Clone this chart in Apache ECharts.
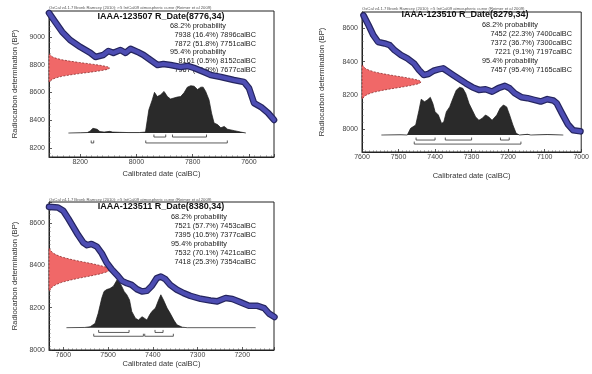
<!DOCTYPE html>
<html><head><meta charset="utf-8">
<script src="https://cdn.jsdelivr.net/npm/echarts@6.0.0/dist/echarts.min.js"></script>
<style>html,body{margin:0;padding:0;background:#fff}#c{width:592px;height:374px}</style>
</head><body><div id="c"></div>
<script>
// ---------- data ----------
const headerText = 'OxCal v4.1.7 Bronk Ramsey (2010); r:5 IntCal09 atmospheric curve (Reimer et al 2009)';
const labCodes = ['IAAA-123507', 'IAAA-123510', 'IAAA-123511'];
const bpMean = [8776, 8279, 8380];
const bpErr = [34, 34, 34];

// [from calBC, probability %, to calBC]
const range68_1 = [[7938, 16.4, 7896], [7872, 51.8, 7751]];
const range95_1 = [[8161, 0.5, 8152], [7967, 94.9, 7677]];
const range68_2 = [[7452, 22.3, 7400], [7372, 36.7, 7300], [7221, 9.1, 7197]];
const range95_2 = [[7457, 95.4, 7165]];
const range68_3 = [[7521, 57.7, 7453], [7395, 10.5, 7377]];
const range95_3 = [[7532, 70.1, 7421], [7418, 25.3, 7354]];

// calibration curve [calBC, BP]
const curve1 = [[8311,9173],[8289,9108],[8264,9036],[8236,8978],[8200,8928],[8164,8885],[8146,8856],[8118,8870],[8100,8899],[8082,8885],[8057,8906],[8039,8885],[8021,8914],[7996,8892],[7975,8870],[7950,8834],[7925,8798],[7904,8805],[7879,8798],[7843,8784],[7818,8791],[7796,8777],[7761,8748],[7736,8726],[7700,8712],[7654,8690],[7618,8676],[7600,8632],[7582,8524],[7557,8495],[7532,8452],[7511,8402]];
const curve2 = [[7596,8675],[7582,8616],[7569,8557],[7556,8517],[7538,8508],[7524,8498],[7511,8468],[7493,8439],[7476,8419],[7458,8390],[7444,8350],[7431,8321],[7418,8327],[7404,8346],[7391,8354],[7378,8360],[7364,8340],[7351,8321],[7333,8295],[7316,8271],[7298,8248],[7280,8232],[7262,8236],[7244,8222],[7227,8242],[7209,8256],[7196,8242],[7182,8212],[7164,8189],[7147,8183],[7129,8173],[7111,8163],[7093,8177],[7076,8169],[7067,8153],[7053,8094],[7036,8026],[7022,7992],[7002,7986]];
const curve3 = [[7632,8677],[7612,8674],[7600,8658],[7589,8622],[7578,8583],[7567,8544],[7555,8507],[7547,8496],[7537,8501],[7525,8489],[7514,8457],[7503,8413],[7492,8382],[7480,8355],[7469,8327],[7458,8316],[7447,8308],[7436,8288],[7424,8277],[7413,8280],[7402,8304],[7391,8340],[7382,8347],[7372,8335],[7361,8308],[7346,8285],[7331,8269],[7316,8256],[7293,8242],[7271,8234],[7256,8230],[7237,8246],[7222,8241],[7203,8225],[7185,8209],[7166,8209],[7151,8198],[7140,8172],[7128,8156]];

// measured radiocarbon date distribution [BP, relative density]
const red1 = [[8876,0.01],[8866,0.03],[8856,0.06],[8846,0.12],[8836,0.21],[8826,0.34],[8816,0.5],[8806,0.68],[8796,0.84],[8786,0.96],[8776,1],[8766,0.96],[8756,0.84],[8746,0.68],[8736,0.5],[8726,0.34],[8716,0.21],[8706,0.12],[8696,0.06],[8686,0.03],[8676,0.01]];
const red2 = [[8379,0.01],[8369,0.03],[8359,0.06],[8349,0.12],[8339,0.21],[8329,0.34],[8319,0.5],[8309,0.68],[8299,0.84],[8289,0.96],[8279,1],[8269,0.96],[8259,0.84],[8249,0.68],[8239,0.5],[8229,0.34],[8219,0.21],[8209,0.12],[8199,0.06],[8189,0.03],[8179,0.01]];
const red3 = [[8480,0.01],[8470,0.03],[8460,0.06],[8450,0.12],[8440,0.21],[8430,0.34],[8420,0.5],[8410,0.68],[8400,0.84],[8390,0.96],[8380,1],[8370,0.96],[8360,0.84],[8350,0.68],[8340,0.5],[8330,0.34],[8320,0.21],[8310,0.12],[8300,0.06],[8290,0.03],[8280,0.01]];

// calibrated distribution [calBC, relative density]
const black1 = [[8242,0],[8200,0.005],[8175,0.01],[8165,0.04],[8155,0.1],[8148,0.12],[8140,0.08],[8130,0.03],[8115,0.02],[8095,0.035],[8085,0.02],[8060,0.015],[8030,0.01],[7990,0.01],[7968,0.02],[7956,0.49],[7944,0.70],[7936,0.86],[7926,0.77],[7914,0.81],[7902,0.88],[7890,0.77],[7879,0.72],[7867,0.74],[7855,0.76],[7843,0.77],[7831,0.85],[7819,0.97],[7807,1.0],[7795,0.99],[7783,0.92],[7771,0.97],[7763,0.97],[7754,0.88],[7742,0.70],[7733,0.42],[7724,0.21],[7712,0.18],[7700,0.11],[7688,0.14],[7676,0.08],[7652,0.05],[7629,0.02],[7611,0]];
const black2 = [[7547,0],[7493,0.005],[7476,0],[7467,0.14],[7453,0.21],[7444,0.52],[7438,0.75],[7429,0.70],[7422,0.73],[7413,0.79],[7406,0.66],[7400,0.49],[7391,0.42],[7382,0.24],[7376,0.28],[7369,0.49],[7360,0.59],[7351,0.77],[7342,0.94],[7333,1.0],[7324,0.98],[7316,0.87],[7307,0.66],[7298,0.52],[7289,0.38],[7280,0.31],[7271,0.35],[7262,0.42],[7253,0.38],[7244,0.31],[7231,0.42],[7222,0.56],[7213,0.63],[7204,0.59],[7196,0.42],[7187,0.21],[7178,0.035],[7169,0],[7147,0.015],[7138,0],[7093,0.01],[7049,0]];
const black3 = [[7593,0],[7552,0.005],[7540,0.02],[7529,0.09],[7522,0.30],[7514,0.62],[7509,0.76],[7503,0.80],[7496,0.82],[7488,0.87],[7480,1.0],[7475,0.97],[7469,0.86],[7464,0.76],[7458,0.69],[7452,0.58],[7447,0.34],[7439,0.20],[7432,0.16],[7424,0.23],[7419,0.20],[7413,0.16],[7407,0.27],[7402,0.34],[7394,0.41],[7387,0.58],[7382,0.69],[7376,0.58],[7368,0.41],[7361,0.30],[7353,0.16],[7346,0.06],[7334,0.01],[7323,0],[7170,0]];

// ---------- layout ----------
const FONT = '"Liberation Sans", Arial, Helvetica, sans-serif';
const panels = [
  {grid:{left:49, top:11, width:225, height:146}, x:[7511,8311], xInt:null, xSplit:4, xMinor:10,
   y:[8135,9187], yInt:null, ySplit:5, yMinor:5, dens:[-0.507,2.58], lv68:-0.085, lv95:-0.21,
   curve:curve1, red:red1, black:black1, r68:range68_1, r95:range95_1,
   titleX:161, titleY:16.7, probL:170, probR:256, line0:25.7, headY:8, xGap:13, yGap:30},
  {grid:{left:362, top:12, width:222, height:140}, x:[7000,7600], xInt:100, xSplit:6, xMinor:10,
   y:[7863,8695], yInt:null, ySplit:4, yMinor:5, dens:[-0.356,2.58], lv68:-0.105, lv95:-0.19,
   curve:curve2, red:red2, black:black2, r68:range68_2, r95:range95_2,
   titleX:465, titleY:15, probL:482, probR:572, line0:25, headY:9.3, xGap:20, yGap:36},
  {grid:{left:49, top:202, width:225, height:148}, x:[7129,7632], xInt:null, xSplit:5, xMinor:10,
   y:[8000,8700], yInt:200, ySplit:4, yMinor:10, dens:[-0.468,2.635], lv68:-0.1, lv95:-0.18,
   curve:curve3, red:red3, black:black3, r68:range68_3, r95:range95_3,
   titleX:161, titleY:207, probL:171, probR:256, line0:217.3, headY:200, xGap:10, yGap:30}
];

const grids = [], xAxes = [], yAxes = [], series = [], graphic = [];
const fmt = r => r[0] + ' (' + r[1] + '%) ' + r[2] + 'calBC';

function bracketSeries(i, data, level) {
  return {
    type:'custom', xAxisIndex:2*i, yAxisIndex:2*i+1, z:5, silent:true, animation:false,
    data: data.map(r => [r[0], r[2]]),
    renderItem: (params, api) => {
      const a = api.coord([api.value(0), level]);
      const b = api.coord([api.value(1), level]);
      return {type:'polyline', shape:{points:[[a[0],a[1]-2.5],[a[0],a[1]],[b[0],b[1]],[b[0],b[1]-2.5]]},
              style:{stroke:'#333', lineWidth:0.8, fill:null}};
    }
  };
}

panels.forEach((p, i) => {
  grids.push(Object.assign({show:true, borderColor:'#222', borderWidth:1, backgroundColor:'transparent'}, p.grid));
  const xa = {
    type:'value', gridIndex:i, min:p.x[0], max:p.x[1], inverse:true, splitNumber:p.xSplit,
    axisLine:{show:true, onZero:false, lineStyle:{color:'#222', width:1}},
    axisTick:{show:true, inside:true, length:3, lineStyle:{color:'#333', width:0.8}},
    minorTick:{show:true, splitNumber:p.xMinor, length:1.6, lineStyle:{color:'#555', width:0.6}},
    splitLine:{show:false}, minorSplitLine:{show:false},
    axisLabel:{fontSize:7, color:'#444', margin:2, fontFamily:FONT,
               formatter: v => (Math.round(v) % 100 === 0 ? String(Math.round(v)) : '')},
    name:'Calibrated date (calBC)', nameLocation:'middle', nameGap:p.xGap,
    nameTextStyle:{fontSize:7.5, color:'#333', fontFamily:FONT}
  };
  if (p.xInt) xa.interval = p.xInt;
  xAxes.push(xa);
  xAxes.push({type:'value', gridIndex:i, min:0, max:3.7, show:false, axisLine:{onZero:false}});
  const ya = {
    type:'value', gridIndex:i, min:p.y[0], max:p.y[1], splitNumber:p.ySplit,
    axisLine:{show:true, onZero:false, lineStyle:{color:'#222', width:1}},
    axisTick:{show:true, inside:true, length:3, lineStyle:{color:'#333', width:0.8}},
    minorTick:{show:true, splitNumber:p.yMinor, length:1.6, lineStyle:{color:'#555', width:0.6}},
    splitLine:{show:false}, minorSplitLine:{show:false},
    axisLabel:{fontSize:7, color:'#444', margin:4, fontFamily:FONT,
               formatter: v => (Math.round(v) % 200 === 0 ? String(Math.round(v)) : '')},
    name:'Radiocarbon determination (BP)', nameLocation:'middle', nameGap:p.yGap, nameRotate:90,
    nameTextStyle:{fontSize:7.6, color:'#333', fontFamily:FONT}
  };
  if (p.yInt) ya.interval = p.yInt;
  yAxes.push(ya);
  yAxes.push({type:'value', gridIndex:i, min:p.dens[0], max:p.dens[1], show:false, axisLine:{onZero:false}});

  // red measured distribution
  series.push({
    type:'custom', xAxisIndex:2*i+1, yAxisIndex:2*i, z:2, silent:true, animation:false,
    data: p.red.map(r => [r[1], r[0]]),
    renderItem: (params, api) => {
      if (params.dataIndex !== 0) return null;
      const pts = [api.coord([0, p.red[0][0]])];
      p.red.forEach(r => pts.push(api.coord([r[1], r[0]])));
      pts.push(api.coord([0, p.red[p.red.length-1][0]]));
      return {type:'polygon', shape:{points:pts},
              style:{fill:'#f06868', stroke:'#7a2020', lineWidth:0.7, lineDash:[2,1.5]}};
    }
  });
  // calibrated distribution
  series.push({
    type:'line', xAxisIndex:2*i, yAxisIndex:2*i+1, data:p.black, symbol:'none', showSymbol:false,
    z:2, silent:true, animation:false,
    lineStyle:{color:'#1a1a1a', width:0.7}, areaStyle:{color:'#2a2a2a', opacity:1}
  });
  series.push(bracketSeries(i, p.r68, p.lv68));
  series.push(bracketSeries(i, p.r95, p.lv95));
  // calibration curve band
  series.push({
    type:'line', xAxisIndex:2*i, yAxisIndex:2*i, data:p.curve, symbol:'none', showSymbol:false,
    z:3, silent:true, animation:false, lineStyle:{color:'#25255f', width:6.6, join:'round', cap:'round'}
  });
  series.push({
    type:'line', xAxisIndex:2*i, yAxisIndex:2*i, data:p.curve, symbol:'none', showSymbol:false,
    z:4, silent:true, animation:false, lineStyle:{color:'#4d4db3', width:4.2, join:'round', cap:'round'}
  });

  // texts
  graphic.push({type:'text', z:1, x:p.grid.left, y:p.headY, silent:true,
    style:{text:headerText, fontSize:4.2, fontFamily:FONT, fill:'#555', align:'left', verticalAlign:'middle'}});
  graphic.push({type:'text', z:1, x:p.titleX, y:p.titleY, silent:true,
    style:{text:labCodes[i] + ' R_Date(' + bpMean[i] + ',' + bpErr[i] + ')', fontSize:9, fontWeight:'bold',
           fontFamily:FONT, fill:'#111', align:'center', verticalAlign:'middle'}});
  const lines = [['68.2% probability', 'l']]
    .concat(p.r68.map(r => [fmt(r), 'r']))
    .concat([['95.4% probability', 'l']])
    .concat(p.r95.map(r => [fmt(r), 'r']));
  lines.forEach((ln, k) => {
    graphic.push({type:'text', z:1, x: ln[1] === 'l' ? p.probL : p.probR, y: p.line0 + k * 8.9, silent:true,
      style:{text:ln[0], fontSize:7.3, fontFamily:FONT, fill:'#222',
             align: ln[1] === 'l' ? 'left' : 'right', verticalAlign:'middle'}});
  });
});

const chart = echarts.init(document.getElementById('c'), null, {renderer:'canvas'});
chart.setOption({
  animation:false, backgroundColor:'#fff',
  grid:grids, xAxis:xAxes, yAxis:yAxes, series:series, graphic:graphic
});
</script>
</body></html>
